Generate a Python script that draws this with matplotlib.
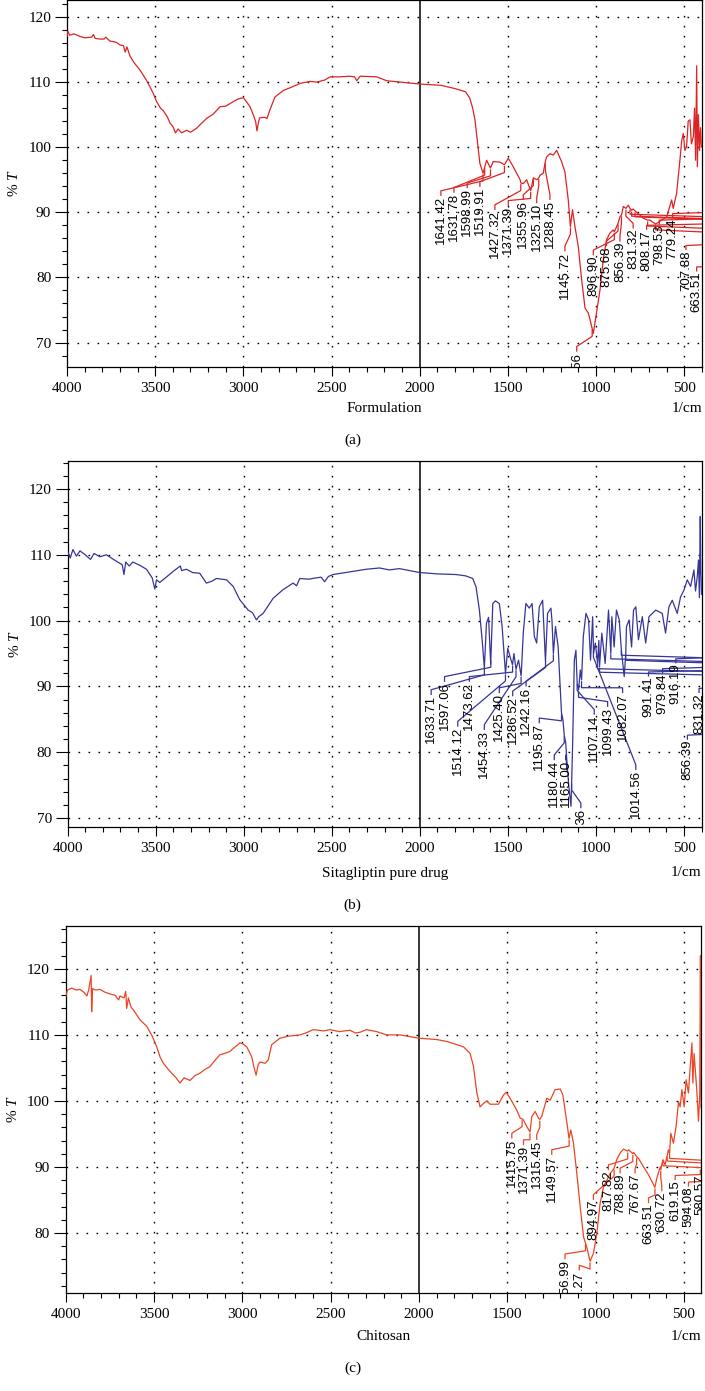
import matplotlib
matplotlib.use('Agg')
import matplotlib.pyplot as plt
import numpy as np
from matplotlib.ticker import MultipleLocator

plt.rcParams['font.family'] = ['Liberation Serif', 'DejaVu Serif']
plt.rcParams['mathtext.fontset'] = 'custom'
plt.rcParams['mathtext.it'] = 'Liberation Serif:italic'
plt.rcParams['mathtext.rm'] = 'Liberation Serif'

# ---------------- (a) Formulation ----------------
a_wn = [4000, 3995, 3985, 3960, 3926, 3900, 3860, 3850, 3840, 3813, 3790, 3780, 3757, 3720,
        3700, 3680, 3670, 3660, 3643, 3620, 3585, 3550, 3530, 3510, 3492, 3470, 3454, 3430,
        3416, 3400, 3385, 3370, 3350, 3322, 3300, 3265, 3240, 3209, 3170, 3133, 3100, 3057,
        3030, 3000, 2980, 2962, 2940, 2930, 2923, 2915, 2908, 2880, 2866, 2850, 2821, 2774,
        2720, 2678, 2620, 2584, 2540, 2508, 2450, 2395, 2370, 2357, 2338, 2244, 2187, 2112,
        2000, 1880, 1800, 1740, 1716, 1700, 1687, 1659, 1641, 1631, 1621, 1599, 1583, 1545,
        1520, 1498, 1470, 1431, 1427, 1413, 1394, 1371, 1356, 1337, 1325, 1318, 1300, 1288,
        1281, 1262, 1243, 1224, 1196, 1177, 1158, 1146, 1134, 1120, 1101, 1082, 1063, 1044,
        1030, 1016, 997, 978, 960, 941, 922, 903, 897, 884, 876, 865, 856, 846, 831, 818,
        808, 799, 790, 779, 761, 733, 708, 695, 664, 657, 629, 600, 572, 563, 544, 525, 515,
        506, 497, 487, 478, 468, 460, 449, 442, 436, 430, 426, 420, 414, 408, 403]
a_t = [117.0, 117.8, 117.2, 117.4, 117.0, 116.8, 116.9, 117.3, 116.7, 116.6, 116.6, 116.9,
       116.3, 116.1, 115.7, 115.6, 114.6, 115.4, 114.0, 113.0, 111.8, 110.3, 109.3, 108.2,
       107.0, 106.0, 105.6, 104.6, 103.7, 103.2, 102.2, 102.8, 102.2, 102.6, 102.3, 102.9,
       103.6, 104.4, 105.1, 106.2, 106.3, 107.0, 107.4, 107.6, 106.9, 106.2, 104.7, 103.9,
       102.5, 103.7, 104.5, 104.6, 104.4, 105.7, 107.7, 108.7, 109.3, 109.8, 110.1, 110.0,
       110.3, 110.8, 110.8, 110.9, 110.8, 110.2, 110.9, 110.8, 110.2, 110.0, 109.7, 109.5,
       109.0, 108.5, 107.5, 106.0, 104.2, 97.5, 96.0, 97.0, 98.0, 96.8, 97.8, 97.7, 97.3,
       98.3, 97.0, 95.0, 94.5, 94.4, 95.0, 93.3, 95.3, 95.0, 95.3, 95.7, 96.0, 97.8, 98.5,
       99.0, 98.8, 99.5, 97.8, 96.2, 91.9, 87.8, 90.4, 87.8, 84.7, 79.6, 75.3, 74.5, 73.0,
       71.4, 74.8, 78.1, 82.7, 85.8, 86.8, 87.3, 87.0, 87.8, 88.3, 89.3, 89.6, 90.9, 90.6,
       91.1, 90.6, 90.3, 90.5, 90.2, 89.8, 89.1, 88.8, 88.8, 88.2, 88.3, 88.8, 89.3, 91.9,
       90.6, 92.9, 98.0, 101.0, 102.1, 99.5, 100.1, 104.0, 104.2, 100.5, 101.6, 106.0, 98.0,
       112.5, 97.0, 105.0, 99.5, 103.0, 100.0]
a_labels = ['1641.42', '1631.78', '1598.99', '1519.91', '1427.32', '1371.39', '1355.96',
            '1325.10', '1288.45', '1145.72', '1022.56', '896.90', '875.68', '856.39',
            '831.32', '808.17', '798.53', '779.24', '707.88', '663.51']
a_lab_x = [1880, 1806, 1731, 1659, 1574, 1498, 1413, 1337, 1262, 1177, 1110, 1016, 941, 865,
           790, 714, 642, 566, 491, 430]
a_lab_t = [92.5, 93.0, 93.7, 93.9, 90.35, 91.0, 91.9, 91.4, 91.9, 84.0, 68.6, 83.4, 84.8,
           85.5, 87.5, 87.3, 88.1, 89.1, 84.2, 80.9]
a_edge = [0, 0, 0, 0, 0, 0, 0, 0, 0, 0, 0, 0, 0, 0, 0, 1, 1, 1, 1, 1]

# ---------------- (b) Sitagliptin pure drug ----------------
b_wn = [4000, 3985, 3970, 3950, 3930, 3900, 3870, 3850, 3816, 3780, 3722, 3690, 3680, 3670,
        3650, 3630, 3590, 3552, 3520, 3505, 3495, 3477, 3440, 3400, 3360, 3353, 3325, 3290,
        3250, 3212, 3180, 3155, 3098, 3060, 3023, 2975, 2950, 2928, 2915, 2890, 2833, 2777,
        2720, 2700, 2682, 2630, 2588, 2560, 2541, 2520, 2494, 2399, 2305, 2229, 2174, 2116,
        2000, 1900, 1794, 1740, 1700, 1681, 1662, 1645, 1634, 1622, 1610, 1598, 1586, 1571,
        1549, 1533, 1514, 1501, 1488, 1474, 1466, 1454, 1440, 1425, 1413, 1398, 1379, 1363,
        1350, 1337, 1322, 1303, 1287, 1275, 1256, 1250, 1242, 1230, 1215, 1196, 1188, 1180,
        1172, 1165, 1155, 1142, 1133, 1123, 1114, 1107, 1099, 1089, 1082, 1072, 1057, 1042,
        1031, 1019, 1014, 1004, 991, 984, 980, 967, 948, 929, 916, 910, 897, 884, 868, 856,
        840, 831, 827, 812, 798, 787, 774, 759, 737, 718, 699, 661, 624, 605, 586, 567, 539,
        520, 501, 482, 463, 444, 435, 425, 418, 413, 408, 405, 401]
b_t = [110.5, 109.5, 110.8, 109.8, 110.6, 110.0, 109.3, 110.2, 109.7, 110.0, 109.0, 108.5,
       107.0, 108.9, 108.3, 108.9, 108.4, 107.8, 106.5, 104.8, 106.2, 105.8, 106.6, 107.5,
       108.3, 107.6, 107.8, 107.3, 107.2, 105.7, 106.0, 106.4, 106.2, 105.2, 103.2, 101.6,
       101.2, 100.1, 100.6, 101.1, 103.4, 104.7, 105.7, 105.3, 106.4, 106.3, 106.5, 106.6,
       105.9, 106.7, 107.0, 107.4, 107.8, 108.0, 107.7, 107.9, 107.3, 107.1, 107.0, 106.8,
       106.4, 105.1, 101.6, 96.6, 92.8, 99.6, 100.5, 93.4, 102.6, 103.0, 102.6, 99.1, 92.0,
       95.8, 94.5, 93.3, 95.0, 92.6, 94.0, 91.6, 98.1, 102.6, 101.9, 102.6, 97.6, 96.6, 102.1,
       103.1, 93.8, 101.1, 101.9, 100.0, 95.0, 99.1, 96.0, 86.0, 85.0, 82.5, 81.5, 78.5, 75.0,
       71.8, 80.9, 94.0, 95.5, 90.5, 89.5, 92.5, 91.0, 97.6, 101.1, 100.1, 94.0, 100.6, 95.0,
       96.6, 93.5, 97.0, 93.0, 98.1, 93.5, 101.6, 95.0, 100.6, 96.0, 101.6, 100.1, 95.5, 91.5,
       95.0, 99.1, 100.1, 96.0, 101.6, 102.1, 97.1, 100.6, 96.6, 100.6, 101.6, 101.1, 98.1,
       102.1, 103.1, 101.1, 103.6, 104.6, 106.2, 105.2, 107.7, 104.5, 106.7, 109.2, 103.5,
       115.8, 108.0, 104.0]
b_labels = ['1633.71', '1597.06', '1514.12', '1473.62', '1454.33', '1425.40', '1286.52',
            '1242.16', '1195.87', '1180.44', '1165.00', '1138.36', '1107.14', '1099.43',
            '1082.07', '1014.56', '991.41', '979.84', '916.19', '856.39', '831.32']
b_lab_x = [1936, 1860, 1785, 1719, 1634, 1549, 1473, 1397, 1322, 1237, 1171, 1086, 1010, 934,
           849, 774, 702, 622, 547, 481, 415]
b_lab_t = [88.7, 90.7, 83.9, 90.7, 83.4, 89.0, 88.5, 90.0, 84.4, 78.8, 78.8, 71.5, 85.7, 86.9,
           89.0, 77.3, 91.5, 92.0, 93.5, 81.9, 89.0]
b_edge = [0, 0, 0, 0, 0, 0, 0, 0, 0, 0, 0, 0, 0, 0, 0, 0, 1, 1, 1, 1, 1]

# ---------------- (c) Chitosan ----------------
c_wn = [4000, 3990, 3966, 3940, 3919, 3895, 3880, 3870, 3856, 3853, 3848, 3830, 3806, 3780,
        3749, 3720, 3700, 3693, 3670, 3660, 3655, 3645, 3630, 3617, 3580, 3541, 3510, 3485,
        3465, 3447, 3420, 3400, 3375, 3353, 3330, 3296, 3270, 3240, 3210, 3183, 3150, 3126,
        3100, 3070, 3040, 3013, 2995, 2975, 2947, 2935, 2922, 2910, 2900, 2871, 2853, 2834,
        2787, 2740, 2674, 2640, 2598, 2540, 2504, 2450, 2391, 2360, 2334, 2297, 2240, 2183,
        2107, 2000, 1900, 1842, 1748, 1710, 1691, 1672, 1654, 1635, 1616, 1597, 1550, 1521,
        1506, 1484, 1446, 1427, 1416, 1408, 1389, 1371, 1361, 1342, 1323, 1315, 1304, 1276,
        1257, 1229, 1200, 1185, 1167, 1150, 1140, 1125, 1106, 1087, 1068, 1057, 1050, 1031,
        1012, 993, 974, 955, 936, 917, 895, 880, 861, 842, 818, 813, 789, 785, 768, 757, 728,
        700, 681, 664, 653, 634, 631, 619, 606, 594, 587, 581, 574, 559, 544, 530, 521, 511,
        498, 487, 474, 464, 454, 449, 442, 427, 417, 410, 406, 403]
c_t = [115.8, 116.8, 117.1, 116.8, 116.9, 116.4, 115.9, 116.8, 119.0, 113.5, 117.0, 116.8,
       116.9, 116.5, 116.2, 116.0, 115.3, 115.9, 115.6, 116.6, 114.0, 115.6, 114.2, 113.8,
       112.3, 111.3, 109.8, 108.2, 106.6, 105.7, 104.8, 104.2, 103.5, 102.7, 103.5, 103.1,
       103.8, 104.2, 104.8, 105.2, 106.3, 107.0, 107.2, 107.5, 108.2, 108.8, 108.6, 108.2,
       106.7, 105.2, 103.9, 105.5, 105.9, 105.7, 106.2, 108.5, 109.5, 109.8, 110.0, 110.3,
       110.8, 110.6, 110.8, 110.5, 110.7, 110.3, 110.4, 110.8, 110.5, 110.0, 110.0, 109.5,
       109.3, 109.0, 108.2, 107.2, 105.2, 101.2, 99.1, 99.6, 100.0, 99.5, 99.5, 100.9, 101.3,
       100.4, 98.6, 97.4, 97.3, 97.1, 96.1, 95.3, 97.6, 98.4, 97.4, 97.2, 97.7, 100.4, 100.1,
       101.7, 101.8, 100.9, 97.6, 94.3, 95.6, 93.6, 89.0, 84.0, 79.4, 78.5, 77.9, 75.7, 76.9,
       79.9, 84.5, 87.0, 88.0, 89.0, 89.8, 91.1, 92.1, 92.7, 92.4, 92.6, 92.0, 92.2, 91.6,
       91.3, 90.0, 88.8, 87.8, 86.9, 88.3, 90.0, 89.6, 91.1, 90.3, 91.8, 92.6, 92.0, 95.1,
       93.6, 96.1, 99.9, 99.1, 101.7, 99.1, 103.2, 101.2, 105.2, 108.8, 102.7, 107.2, 101.7,
       96.9, 101.0, 122.0, 99.0]
c_labels = ['1415.75', '1371.39', '1315.45', '1149.57', '1056.99', '1031.27', '894.97',
            '817.82', '788.89', '767.67', '663.51', '630.72', '619.15', '594.08', '580.57']
c_lab_x = [1474, 1408, 1333, 1248, 1173, 1092, 1012, 927, 861, 776, 700, 625, 549, 474, 407]
c_lab_t = [94.3, 93.3, 94.1, 91.8, 76.0, 74.3, 85.0, 89.5, 89.0, 89.0, 84.5, 86.3, 88.0, 87.0,
           88.8]
c_edge = [0, 0, 0, 0, 0, 0, 0, 0, 0, 0, 0, 0, 1, 1, 1]


def panel(fig, rect, wn, t, color, xlim, ylim, labels, lab_x, lab_t, edge, name, yname_y):
    ax = fig.add_axes(rect)
    ax.plot(wn, t, color=color, lw=0.9, zorder=3)
    ax.set_xlim(*xlim)
    ax.set_ylim(*ylim)

    # peak labels with leader lines
    xs = np.array(wn[::-1], dtype=float)
    ys = np.array(t[::-1], dtype=float)
    for lab, xl, tl, e in zip(labels, lab_x, lab_t, edge):
        xp = float(lab)
        tp = np.interp(xp, xs, ys)
        if e:
            ax.plot([xl, xl, 250], [tl + 0.1, tl + 0.7, tl + 1.0], color=color, lw=0.9,
                    clip_on=True, zorder=2)
            ax.plot([xp, xp, 250], [tp - 0.3, tp - 0.9, tp - 1.4], color=color, lw=0.9,
                    clip_on=True, zorder=2)
        else:
            ax.plot([xl, xl, xp, xp], [tl + 0.1, tl + 0.8, tp - 1.2, tp - 0.3], color=color,
                    lw=0.9, clip_on=True, zorder=2)
        ax.text(xl, tl, lab, rotation=90, ha='center', va='top', fontsize=9.5,
                family='Liberation Sans', clip_on=True, zorder=4)

    # grid and the 2000 split line
    ax.xaxis.set_major_locator(MultipleLocator(500))
    ax.xaxis.set_minor_locator(MultipleLocator(100))
    ax.yaxis.set_major_locator(MultipleLocator(10))
    ax.yaxis.set_minor_locator(MultipleLocator(2))
    for g in [3500, 3000, 2500, 1500, 1000, 500]:
        ax.axvline(g, color='black', lw=1.0, ls=(0, (1.2, 6)), zorder=1)
    for g in range(70, 130, 10):
        if ylim[0] < g < ylim[1]:
            ax.axhline(g, color='black', lw=1.0, ls=(0, (1.2, 6)), zorder=1)
    ax.axvline(2000, color='black', lw=1.1, zorder=1)

    ax.tick_params(axis='both', which='both', direction='out', width=0.8, labelsize=11)
    ax.tick_params(axis='y', which='major', length=8.4, pad=3)
    ax.tick_params(axis='x', which='major', length=6.7, pad=4)
    ax.tick_params(axis='both', which='minor', length=3.6)
    for s in ax.spines.values():
        s.set_linewidth(0.9)

    ax.set_ylabel(r'% $T$', fontsize=11)
    ax.yaxis.set_label_coords(-0.072, 0.5)

    x0, y0, w, h = rect
    fig.text(x0 + w / 2, yname_y, name, ha='center', va='center', fontsize=11)
    fig.text(x0 + w, yname_y, '1/cm', ha='right', va='center', fontsize=11)
    return ax


fig = plt.figure(figsize=(7.05, 13.91), dpi=100)

panel(fig, [0.0950, 0.7364, 0.9007, 0.2636], a_wn, a_t, '#dd2323', (4000, 400), (66.3, 122.6),
      a_labels, a_lab_x, a_lab_t, a_edge, 'Formulation', 1 - 408 / 1391)
panel(fig, [0.0959, 0.4052, 0.8994, 0.2634], b_wn, b_t, '#35359a', (4000, 400), (68.6, 124.25),
      b_labels, b_lab_x, b_lab_t, b_edge, 'Sitagliptin pure drug', 1 - 873 / 1391)
panel(fig, [0.0932, 0.0707, 0.9011, 0.2636], c_wn, c_t, '#ec4424', (4000, 403), (70.95, 126.5),
      c_labels, c_lab_x, c_lab_t, c_edge, 'Chitosan', 1 - 1336 / 1391)

fig.text(0.5, 1 - 440 / 1391, '(a)', ha='center', va='center', fontsize=11)
fig.text(0.5, 1 - 905 / 1391, '(b)', ha='center', va='center', fontsize=11)
fig.text(0.5, 1 - 1368 / 1391, '(c)', ha='center', va='center', fontsize=11)

fig.savefig('out.png', dpi=100)
